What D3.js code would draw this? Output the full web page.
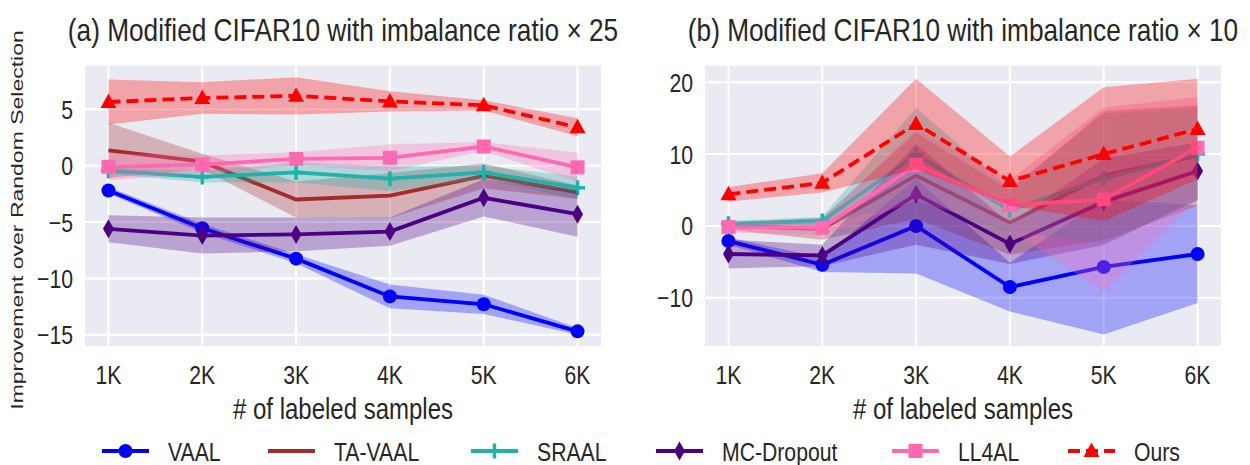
<!DOCTYPE html>
<html>
<head>
<meta charset="utf-8">
<script src="https://cdn.jsdelivr.net/npm/d3@7"></script>
<style>
  body { margin: 0; background: #fff; }
  svg { display: block; }
  text { font-family: "Liberation Sans", Arial, sans-serif; fill: #262626; }
</style>
</head>
<body>
<div id="chart"></div>
<script>
// x categories
var xLabels = ["1K", "2K", "3K", "4K", "5K", "6K"];
var methods = ["VAAL", "TA-VAAL", "SRAAL", "MC-Dropout", "LL4AL", "Ours"];

// (a) imbalance ratio x 25 : mean / std
var vaal25 = [-2.2, -5.55, -8.25, -11.6, -12.3, -14.7];
var vaal25Sd = [0.3, 0.4, 0.4, 1.05, 0.85, 0.3];
var taVaal25 = [1.35, 0.35, -3.0, -2.65, -0.9, -2.35];
var taVaal25Sd = [2.45, 0.7, 1.6, 2.0, 1.1, 0.6];
var sraal25 = [-0.45, -1.0, -0.6, -1.15, -0.6, -1.95];
var sraal25Sd = [0.3, 0.5, 0.9, 1.1, 0.6, 1.0];
var mcDrop25 = [-5.6, -6.2, -6.1, -5.85, -2.85, -4.3];
var mcDrop25Sd = [1.2, 1.6, 1.5, 1.25, 1.65, 2.0];
var ll4al25 = [-0.1, 0.1, 0.6, 0.7, 1.7, -0.15];
var ll4al25Sd = [1.2, 0.8, 0.6, 1.2, 0.4, 1.3];
var ours25 = [5.65, 6.0, 6.2, 5.7, 5.35, 3.4];
var ours25Sd = [2.0, 1.4, 1.65, 0.9, 0.45, 0.8];

// (b) imbalance ratio x 10 : mean / std
var vaal10 = [-2.1, -5.4, 0.0, -8.5, -5.7, -3.9];
var vaal10Sd = [0.5, 1.0, 6.6, 3.4, 9.4, 6.8];
var taVaal10 = [0.0, -0.4, 7.0, 0.5, 7.0, 9.8];
var taVaal10Sd = [0.5, 1.5, 6.0, 4.5, 9.0, 7.0];
var sraal10 = [0.3, 0.7, 9.9, 2.2, 6.6, 10.0];
var sraal10Sd = [0.4, 0.6, 6.5, 3.0, 9.0, 6.5];
var mcDrop10 = [-3.9, -4.1, 4.4, -2.5, 3.35, 7.65];
var mcDrop10Sd = [2.0, 1.5, 7.0, 2.8, 6.0, 4.0];
var ll4al10 = [-0.15, -0.25, 8.5, 2.9, 3.7, 10.9];
var ll4al10Sd = [0.8, 1.0, 5.0, 3.5, 12.8, 7.0];
var ours10 = [4.4, 6.0, 14.2, 6.25, 10.0, 13.5];
var ours10Sd = [1.0, 1.35, 6.3, 3.4, 9.3, 7.0];

var yTicks25 = [5, 0, -5, -10, -15];
var yTicks10 = [20, 10, 0, -10];

var colors = {"VAAL": "#0000ff", "TA-VAAL": "#a52a2a", "SRAAL": "#20b2aa",
              "MC-Dropout": "#4b0082", "LL4AL": "#ff69b4", "Ours": "#ff0000"};
var markers = {"VAAL": "circle", "TA-VAAL": "none", "SRAAL": "plus",
               "MC-Dropout": "thin_diamond", "LL4AL": "square", "Ours": "triangle"};

var W = 1250, H = 465;
var svg = d3.select("#chart").append("svg")
  .attr("width", W).attr("height", H)
  .attr("viewBox", "0 0 " + W + " " + H);

var top0 = 65.7, bot0 = 346;

var panels = [
  {left: 85, right: 601, domain: [-16.0, 8.87], ticks: yTicks25,
   title: "(a) Modified CIFAR10 with imbalance ratio \u00d7 25",
   series: [[vaal25, vaal25Sd], [taVaal25, taVaal25Sd], [sraal25, sraal25Sd],
            [mcDrop25, mcDrop25Sd], [ll4al25, ll4al25Sd], [ours25, ours25Sd]]},
  {left: 705, right: 1221, domain: [-16.7, 22.3], ticks: yTicks10,
   title: "(b) Modified CIFAR10 with imbalance ratio \u00d7 10",
   series: [[vaal10, vaal10Sd], [taVaal10, taVaal10Sd], [sraal10, sraal10Sd],
            [mcDrop10, mcDrop10Sd], [ll4al10, ll4al10Sd], [ours10, ours10Sd]]}
];

// the figure's text is horizontally squeezed, so draw it scaled
function narrowText(g, x, y, anchor, size, str, sx) {
  return g.append("text")
    .attr("transform", "translate(" + x + "," + y + ") scale(" + (sx || 0.8) + ",1)")
    .attr("text-anchor", anchor)
    .style("font-size", size + "px")
    .text(str);
}

function drawMarker(g, type, cx, cy, color) {
  if (type == "circle") {
    g.append("circle").attr("cx", cx).attr("cy", cy).attr("r", 7).attr("fill", color);
  } else if (type == "square") {
    g.append("rect").attr("x", cx - 7).attr("y", cy - 7)
      .attr("width", 14).attr("height", 14).attr("fill", color);
  } else if (type == "triangle") {
    g.append("path").attr("d", "M" + cx + "," + (cy - 8.5) + "L" + (cx + 8) + "," + (cy + 6)
      + "L" + (cx - 8) + "," + (cy + 6) + "Z").attr("fill", color);
  } else if (type == "thin_diamond") {
    g.append("path").attr("d", "M" + cx + "," + (cy - 9.5) + "L" + (cx + 5.5) + "," + cy
      + "L" + cx + "," + (cy + 9.5) + "L" + (cx - 5.5) + "," + cy + "Z").attr("fill", color);
  } else if (type == "plus") {
    g.append("path").attr("d", "M" + (cx - 7.5) + "," + cy + "H" + (cx + 7.5)
      + "M" + cx + "," + (cy - 7.5) + "V" + (cy + 7.5))
      .attr("stroke", color).attr("stroke-width", 3.5).attr("fill", "none");
  }
}

panels.forEach(function(p) {
  var x = d3.scaleLinear().domain([0.75, 6.25]).range([p.left, p.right]);
  var y = d3.scaleLinear().domain(p.domain).range([bot0, top0]);
  var g = svg.append("g");

  // background
  g.append("rect").attr("x", p.left).attr("y", top0)
    .attr("width", p.right - p.left).attr("height", bot0 - top0)
    .attr("fill", "#eaeaf2");

  // grid
  g.selectAll(".vgrid").data(xLabels).join("line")
    .attr("x1", function(d, i) { return x(i + 1); })
    .attr("x2", function(d, i) { return x(i + 1); })
    .attr("y1", top0).attr("y2", bot0)
    .attr("stroke", "#fff").attr("stroke-width", 2);
  g.selectAll(".hgrid").data(p.ticks).join("line")
    .attr("x1", p.left).attr("x2", p.right)
    .attr("y1", function(d) { return y(d); })
    .attr("y2", function(d) { return y(d); })
    .attr("stroke", "#fff").attr("stroke-width", 2);

  // tick labels
  xLabels.forEach(function(d, i) { narrowText(g, x(i + 1), 384, "middle", 26.5, d); });
  p.ticks.forEach(function(d) {
    narrowText(g, p.left - 12, y(d) + 9.5, "end", 26.5, d3.format("d")(d));
  });

  // title and x label
  narrowText(g, (p.left + p.right) / 2, 41, "middle", 32, p.title, 0.82);
  narrowText(g, (p.left + p.right) / 2, 419, "middle", 30, "# of labeled samples");

  // series
  var sg = g.append("g");
  p.series.forEach(function(s, k) {
    var m = methods[k], col = colors[m];
    var mean = s[0], sd = s[1];
    var area = d3.area()
      .x(function(d, i) { return x(i + 1); })
      .y0(function(d, i) { return y(d - sd[i]); })
      .y1(function(d, i) { return y(d + sd[i]); });
    sg.append("path").datum(mean).attr("d", area)
      .attr("fill", col).attr("fill-opacity", 0.3);
    var line = d3.line().x(function(d, i) { return x(i + 1); }).y(function(d) { return y(d); });
    sg.append("path").datum(mean).attr("d", line)
      .attr("fill", "none").attr("stroke", col).attr("stroke-width", 3.8)
      .attr("stroke-dasharray", m == "Ours" ? "12,6" : null);
    mean.forEach(function(v, i) { drawMarker(sg, markers[m], x(i + 1), y(v), col); });
  });
});

// y axis label (left only)
svg.append("text")
  .attr("transform", "translate(23,220) scale(0.72,1) rotate(-90)")
  .attr("text-anchor", "middle")
  .style("font-size", "23px")
  .text("Improvement over Random Selection");

// legend
var legX = [102, 268, 471, 656, 892, 1068];
var legY = 451;
methods.forEach(function(m, k) {
  var g = svg.append("g");
  var col = colors[m];
  g.append("line").attr("x1", legX[k]).attr("x2", legX[k] + 47)
    .attr("y1", legY).attr("y2", legY)
    .attr("stroke", col).attr("stroke-width", 3.8)
    .attr("stroke-dasharray", m == "Ours" ? "12,6" : null);
  drawMarker(g, markers[m], legX[k] + 23.5, legY, col);
  narrowText(g, legX[k] + 66, legY + 9.5, "start", 26.5, m);
});
</script>
</body>
</html>
